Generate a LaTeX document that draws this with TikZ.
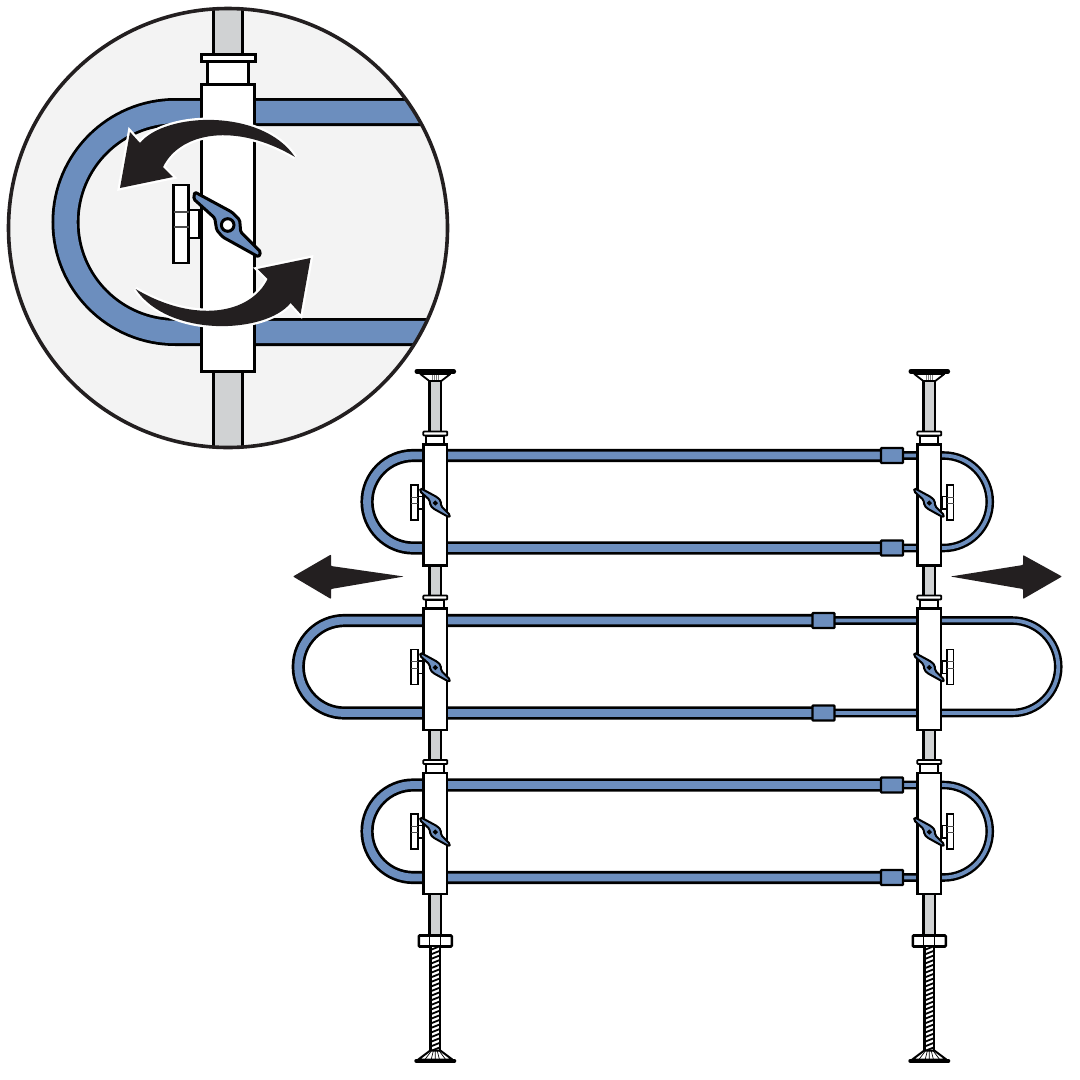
\documentclass[tikz,border=0pt]{standalone}
\definecolor{tubeblue}{HTML}{6C8EBE}
\definecolor{rodgray}{HTML}{D0D2D3}
\definecolor{inkblack}{HTML}{231F20}
\definecolor{insetbg}{HTML}{F3F3F3}
\tikzset{
  thicktube/.style={draw=black,line width=13.2pt},
  thickfill/.style={draw=tubeblue,line width=7.8pt},
  thintube/.style={draw=black,line width=8.6pt},
  thinfill/.style={draw=tubeblue,line width=3.8pt},
  part/.style={draw=black,fill=white,line width=2.4pt},
  collarpart/.style={draw=black,fill=white,line width=1.8pt,rounded corners=0.8pt},
  rodpart/.style={draw=black,fill=rodgray,line width=2.3pt},
  coupler/.style={draw=black,fill=tubeblue,line width=2.4pt,rounded corners=0.8pt},
  wingshape/.style={draw=black,fill=tubeblue,rounded corners=1.5pt,line join=round},
  bigarrow/.style={fill=inkblack},
  halo/.style={draw=white,line width=4.6pt,line join=miter,miter limit=3},
}
% local handle: #1 position, #2 scale, #3 side (-1 left, 1 right), #4 line width, #5 plate line width
\newcommand{\handlepart}[5]{%
  \begin{scope}[shift={(#1)},scale=#2]
    \begin{scope}[xscale=#3]
      \draw[part,line width=#5] (39,-15) rectangle (28,13);
      \draw[part,line width=#5] (54,-40) rectangle (39,38);
      \draw[black!70,line width=#5*0.6] (54,-13) -- (39,-13) (54,2) -- (39,2);
    \end{scope}
    \draw[wingshape,line width=#4] (-33,-33) -- (4,-13) -- (12,-5) -- (13,7) -- (33,27) -- (31,32) -- (-5,12) -- (-11,5) -- (-13,-7) -- (-34,-26) -- cycle;
    \draw[draw=black,fill=white,line width=#4] (0,0) circle[radius=6.3*#2 pt];
  \end{scope}}
\newcommand{\barrel}[3]{% x, top of collar, bottom of body
  \draw[collarpart] (#1-12,#2) rectangle (#1+12,#2+4);
  \draw[part,line width=2pt] (#1-9,#2+4) rectangle (#1+9,#2+13);
  \draw[part] (#1-11.7,#2+13) rectangle (#1+11.7,#3);}
\newcommand{\rodseg}[3]{\draw[rodpart] (#1-5.9,#2) rectangle (#1+5.9,#3);}
\newcommand{\fullcolumn}[1]{%
  \rodseg{#1}{380}{432}
  \draw[part,line width=1.8pt,line join=round] (#1-15,374) -- (#1-6,381) -- (#1+6,381) -- (#1+15,374) -- cycle;
  \draw[gray,line width=0.8pt] (#1-3,375) -- (#1-3,380) (#1-1,375) -- (#1-1,380) (#1+1,375) -- (#1+1,380) (#1+3,375) -- (#1+3,380);
  \draw[black,line width=4.6pt,line cap=round] (#1-18.5,371.4) -- (#1+18.5,371.4);
  \rodseg{#1}{565}{596}
  \rodseg{#1}{730}{761}
  \rodseg{#1}{894}{936}
  \barrel{#1}{431.5}{565.5}
  \barrel{#1}{595.5}{730}
  \barrel{#1}{760}{894}
  % nut
  \draw[part,line width=2.6pt,rounded corners=1pt] (#1-16.5,935.5) rectangle (#1+16.5,946.5);
  \draw[black,line width=0.8pt] (#1-5.5,936) -- (#1-5.5,946) (#1+5.5,936) -- (#1+5.5,946);
  % threaded rod
  \begin{scope}
    \clip (#1-4.4,947) rectangle (#1+4.4,1052);
    \fill[white] (#1-5,947) rectangle (#1+5,1052);
    \foreach \yy in {948,952.6,...,1052}{\draw[black,line width=1.8pt] (#1-5,\yy+2) -- (#1+5,\yy-2);}
  \end{scope}
  \draw[black,line width=2.4pt] (#1-4.8,947) -- (#1-4.8,1051) (#1+4.8,947) -- (#1+4.8,1051);
  % foot
  \draw[part,line width=2pt,line join=round] (#1-17,1059.5) -- (#1-5,1050.5) -- (#1+5,1050.5) -- (#1+17,1059.5) -- cycle;
  \draw[black,line width=0.7pt] (#1-2,1051) -- (#1-4,1059) (#1+2,1051) -- (#1+4,1059) (#1-4,1051) -- (#1-10,1059) (#1+4,1051) -- (#1+10,1059) (#1,1051) -- (#1,1059);
  \draw[black,line width=4pt,line cap=round] (#1-19,1060.8) -- (#1+19,1060.8);}
% tube loop: #1 top y, #2 bottom y, #3 left arc centre, #4 right arc centre, #5 coupler x, #6 radius
\newcommand{\tubeloop}[6]{%
  \draw[thintube] (#5,#1) -- (#4,#1) arc[start angle=90,end angle=-90,radius=#6 pt] -- (#5,#2);
  \draw[thinfill] (#5,#1) -- (#4,#1) arc[start angle=90,end angle=-90,radius=#6 pt] -- (#5,#2);
  \draw[thicktube] (#5,#1) -- (#3,#1) arc[start angle=90,end angle=270,radius=#6 pt] -- (#5,#2);
  \draw[thickfill] (#5,#1) -- (#3,#1) arc[start angle=90,end angle=270,radius=#6 pt] -- (#5,#2);
  \draw[coupler] (#5-11,#1-7.5) rectangle (#5+11,#1+7.5);
  \draw[coupler] (#5-11,#2-7.5) rectangle (#5+11,#2+7.5);}
\newcommand{\toparrowpath}{(295,157) .. controls (262,108) and (165,112) .. (140,143) -- (130,132) -- (120,188) -- (173,177) -- (163,167) .. controls (180,132) and (236,122) .. (295,157) -- cycle}
\begin{document}
\begin{tikzpicture}[x=1pt,y=-1pt]
\useasboundingbox (0,0) rectangle (1080,1080);
\fill[white] (0,0) rectangle (1080,1080);
% inset
\begin{scope}
  \clip (228,228) circle[radius=219.5pt];
  \fill[insetbg] (0,0) rectangle (460,460);
  \draw[rodpart,line width=3pt] (213.5,0) rectangle (242,60);
  \draw[rodpart,line width=3pt] (213.5,370) rectangle (242,460);
  \draw[draw=black,line width=28pt] (460,112) -- (175.5,112) arc[start angle=90,end angle=270,radius=110pt] -- (460,332);
  \draw[draw=tubeblue,line width=22.4pt] (460,112) -- (175.5,112) arc[start angle=90,end angle=270,radius=110pt] -- (460,332);
  \draw[part,line width=3pt] (201,54.5) rectangle (255,61.5);
  \draw[part,line width=3pt] (207,61.5) rectangle (248.5,84.5);
  \draw[part,line width=3pt] (201,84.5) rectangle (254.5,371.5);
\end{scope}
\handlepart{227.7,225}{1}{-1}{3pt}{2.6pt}
\draw[halo] \toparrowpath;
\fill[bigarrow] \toparrowpath;
\begin{scope}[rotate around={180:(215.3,223)}]
  \draw[halo] \toparrowpath;
  \fill[bigarrow] \toparrowpath;
\end{scope}
\draw[inkblack,line width=3.6pt] (228,228) circle[radius=219.5pt];
% tubes
\tubeloop{455.5}{548}{413.3}{943.5}{892}{46.25}
\tubeloop{620.5}{713}{344.5}{1012}{823.5}{46.25}
\tubeloop{785}{877.5}{413.3}{943.5}{892}{46.25}
% columns
\fullcolumn{435.3}
\fullcolumn{929.3}
% handles
\foreach \yy in {503,667.5,832}{
  \handlepart{435.3,\yy}{0.45}{-1}{2pt}{1.5pt}
  \handlepart{929.3,\yy}{0.45}{1}{2pt}{1.5pt}
}
% push arrows
\fill[bigarrow,rounded corners=0.8pt] (404,576.5) -- (331,566) -- (331,554.5) -- (293,576.5) -- (331,599) -- (331,589) -- cycle;
\fill[bigarrow,rounded corners=0.8pt] (950.5,576.5) -- (1023,565) -- (1023,555) -- (1062,576.5) -- (1023,599) -- (1023,589) -- cycle;
\end{tikzpicture}
\end{document}
